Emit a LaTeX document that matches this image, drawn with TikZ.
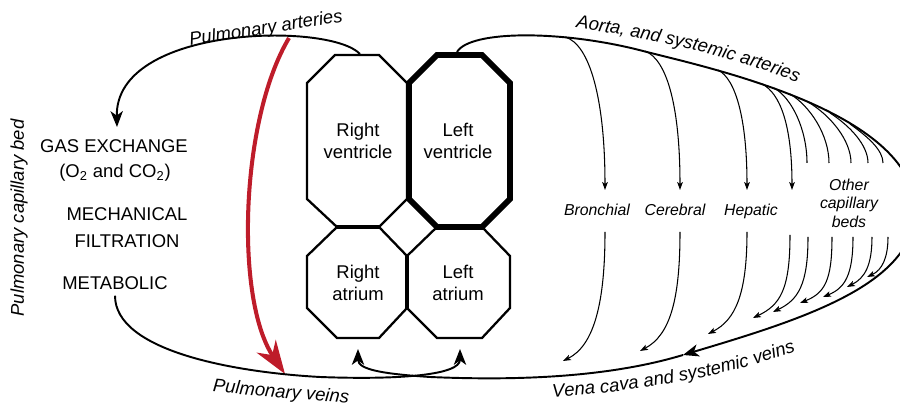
\documentclass[tikz,border=0pt]{standalone}
\usepackage{fontspec}
\setmainfont{Liberation Sans}
\usetikzlibrary{arrows.meta,decorations.text}
\definecolor{pulmred}{RGB}{190,28,42}
\newcommand\vesselfont{\fontsize{10.5}{12.6}\selectfont\itshape}
\tikzset{
  vessel/.style={line width=1.1pt},
  bed/.style={line width=0.6pt},
  wall/.style={line width=1.3pt, line join=miter},
  thickwall/.style={line width=2.4pt},
  bigtip/.style={-{Stealth[length=9pt,width=7pt,inset=2.5pt]}},
  smalltip/.style={-{Stealth[length=4.5pt,width=3.2pt,inset=1pt]}},
  vessel label/.style={font=\vesselfont},
  curved label/.style={decorate, decoration={text along path, text align=center, text={#1}}},
  bed label/.style={font=\fontsize{9}{10.5}\selectfont\itshape, align=center},
  chamber label/.style={font=\fontsize{10.5}{12.6}\selectfont, align=center},
  role/.style={font=\fontsize{10.5}{12.6}\selectfont},
}
\begin{document}
\begin{tikzpicture}[x=0.02cm,y=-0.02cm]
\useasboundingbox (0,0) rectangle (900,404);
\clip (0,0) rectangle (900,404);
% chambers
\draw[wall] (335,55) -- (379,55) -- (407,83) -- (407,199) -- (379,227) -- (337,227) -- (307,199) -- (307,83) -- cycle;
\draw[wall] (337,227) -- (379,227) -- (407,256) -- (407,308) -- (379,338) -- (337,338) -- (307,308) -- (307,256) -- cycle;
\draw[wall] (437,227) -- (482,227) -- (510,256) -- (510,308) -- (482,338) -- (437,338) -- (407,308) -- (407,256) -- cycle;
\draw[thickwall] (337,227) -- (379,227);
\draw[thickwall] (407,256) -- (407,308);
\draw[line width=3.4pt, line join=miter] (437,55) -- (482,55) -- (510,83) -- (510,199) -- (482,227) -- (437,227) -- (409,199) -- (409,83) -- cycle;
\node[chamber label] (rv) at (358,141) {Right\\ventricle};
\node[chamber label] (lv) at (458,141) {Left\\ventricle};
\node[chamber label] (ra) at (358,283) {Right\\atrium};
\node[chamber label] (la) at (458,283) {Left\\atrium};
\coordinate (rvout) at (360,54);
\coordinate (lvout) at (457,52);
\coordinate (rain) at (358,349);
\coordinate (lain) at (460,349);
% lungs
\node[role] (gas) at (114,146) {GAS EXCHANGE};
\node[role] (gasnote) at (115,173) {(O\textsubscript{2} and CO\textsubscript{2})};
\node[role] (mech) at (127,214) {MECHANICAL};
\node[role] (filt) at (127,241) {FILTRATION};
\node[role] (metab) at (115,283) {METABOLIC};
\node[vessel label, rotate=90] (pcb) at (19,218) {Pulmonary capillary bed};
\coordinate (gasin) at (117,127);
% vessel names
\node[vessel label, rotate=9] (pa) at (266,29) {Pulmonary arteries};
\node[vessel label, rotate=-5] (pv) at (281,393) {Pulmonary veins};
\path[curved label={|\vesselfont|Aorta, and systemic arteries}] (571,27) .. controls (650,38) and (730,56) .. (802,84);
\path[curved label={|\vesselfont|Vena cava and systemic veins}] (546,398) .. controls (620,393) and (720,380) .. (802,349);
% pulmonary loop
\coordinate (patop) at (289,38);
\coordinate (pvtip) at (285,374);
\draw[vessel, bigtip] (rvout) .. controls (330,22) and (115,25) .. (gasin);
\draw[pulmred, line width=2.3pt, -{Stealth[length=19pt,width=13pt,inset=6pt]}] (patop) .. controls (240,120) and (235,300) .. (pvtip);
\draw[vessel, bigtip] (metab.south) .. controls (115,350) and (230,372) .. (320,377) .. controls (400,380) and (460,375) .. (lain);
% systemic loop
\coordinate (vcmid) at (683,355);
\draw[vessel, bigtip] (lvout) .. controls (470,30) and (563,30) .. (643,51) .. controls (700,66) and (915,110) .. (915,210) .. controls (915,285) and (800,320) .. (vcmid);
\draw[vessel, bigtip] (vcmid) .. controls (600,380) and (500,380) .. (430,377) .. controls (385,374) and (358,370) .. (rain);
% capillary beds
\node[bed label] (bronch) at (597,210) {Bronchial};
\node[bed label] (cereb) at (675,210) {Cerebral};
\node[bed label] (hepat) at (751,211) {Hepatic};
\node[bed label] (other) at (849,203) {Other\\capillary\\beds};
\draw[bed, smalltip] (565,37) .. controls (590,44) and (605,100) .. (605,190);
\draw[bed, smalltip] (645,51) .. controls (668,60) and (680,110) .. (680,190);
\draw[bed, smalltip] (718,70) .. controls (736,79) and (747,120) .. (747,190);
\draw[bed, smalltip] (762,84) .. controls (780,93) and (792,125) .. (792,190);
\draw[bed] (774,88) .. controls (792,98) and (807,130) .. (807,163);
\draw[bed] (790,94) .. controls (810,106) and (829,135) .. (829,163);
\draw[bed] (808,102) .. controls (830,115) and (851,140) .. (851,163);
\draw[bed] (830,113) .. controls (850,126) and (868,145) .. (868,163);
\draw[bed] (850,124) .. controls (868,137) and (883,150) .. (883,163);
\draw[bed, smalltip] (605,232) .. controls (605,300) and (595,345) .. (563,361);
\draw[bed, smalltip] (680,232) .. controls (680,300) and (670,335) .. (640,351);
\draw[bed, smalltip] (747,232) .. controls (747,295) and (735,320) .. (708,334);
\draw[bed, smalltip] (790,235) .. controls (790,290) and (780,305) .. (753,318);
\draw[bed, smalltip] (808,237) .. controls (808,285) and (798,300) .. (773,312);
\draw[bed, smalltip] (832,237) .. controls (832,280) and (825,293) .. (800,303);
\draw[bed, smalltip] (853,237) .. controls (853,275) and (845,288) .. (823,297);
\draw[bed, smalltip] (872,237) .. controls (872,265) and (865,278) .. (847,287);
\draw[bed, smalltip] (888,237) .. controls (888,258) and (882,270) .. (867,277);
\end{tikzpicture}
\end{document}
